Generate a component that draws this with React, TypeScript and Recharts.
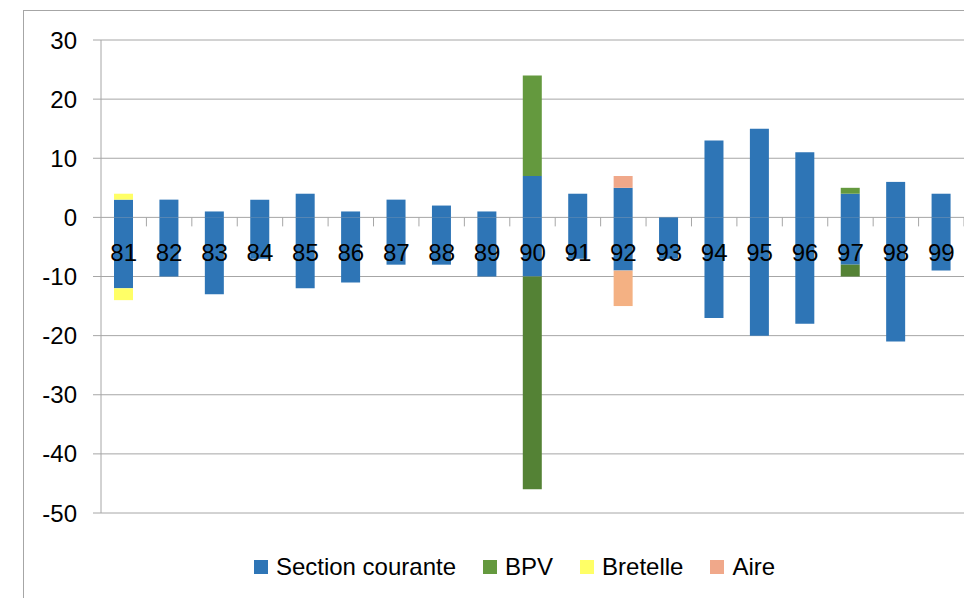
import React from 'react';
import { BarChart, Bar, XAxis, YAxis, CartesianGrid, Legend } from 'recharts';

const categories = ['81', '82', '83', '84', '85', '86', '87', '88', '89', '90', '91', '92', '93', '94', '95', '96', '97', '98', '99'];
const seriesNames = ['Section courante', 'BPV', 'Bretelle', 'Aire'];

const sectionPos = [3, 3, 1, 3, 4, 1, 3, 2, 1, 7, 4, 5, 0, 13, 15, 11, 4, 6, 4];
const sectionNeg = [-12, -10, -13, -7, -12, -11, -8, -8, -10, -10, -7, -9, -7, -17, -20, -18, -8, -21, -9];
const bpvPos = [0, 0, 0, 0, 0, 0, 0, 0, 0, 17, 0, 0, 0, 0, 0, 0, 1, 0, 0];
const bpvNeg = [0, 0, 0, 0, 0, 0, 0, 0, 0, -36, 0, 0, 0, 0, 0, 0, -2, 0, 0];
const bretellePos = [1, 0, 0, 0, 0, 0, 0, 0, 0, 0, 0, 0, 0, 0, 0, 0, 0, 0, 0];
const bretelleNeg = [-2, 0, 0, 0, 0, 0, 0, 0, 0, 0, 0, 0, 0, 0, 0, 0, 0, 0, 0];
const airePos = [0, 0, 0, 0, 0, 0, 0, 0, 0, 0, 0, 2, 0, 0, 0, 0, 0, 0, 0];
const aireNeg = [0, 0, 0, 0, 0, 0, 0, 0, 0, 0, 0, -6, 0, 0, 0, 0, 0, 0, 0];

const yTicks = [-50, -40, -30, -20, -10, 0, 10, 20, 30];

const FONT = '"Liberation Sans", Arial, sans-serif';
const GRID = '#a6a6a6';

// plot area, used to put the category labels on the zero line
const PLOT_TOP = 40;
const PLOT_H = 473;
const Y_MIN = yTicks[0];
const Y_MAX = yTicks[yTicks.length - 1];
const ZERO_Y = PLOT_TOP + (Y_MAX / (Y_MAX - Y_MIN)) * PLOT_H;

const data = categories.map((cat, i) => ({
  cat,
  scPos: sectionPos[i],
  scNeg: sectionNeg[i],
  bpvPos: bpvPos[i],
  bpvNeg: bpvNeg[i],
  brPos: bretellePos[i],
  brNeg: bretelleNeg[i],
  airePos: airePos[i],
  aireNeg: aireNeg[i],
}));

const CategoryTick = (props: any) => {
  const { x, payload, width } = props;
  const band = (width || 863) / categories.length;
  return (
    <g>
      <line x1={x + band / 2} x2={x + band / 2} y1={ZERO_Y} y2={ZERO_Y + 9} stroke={GRID} />
      <text x={x} y={ZERO_Y + 44} textAnchor="middle" fontSize={24} fontFamily={FONT} fill="#000">
        {payload.value}
      </text>
    </g>
  );
};

const LegendContent = (props: any) => {
  const items = (props.payload || [])
    .filter((p: any) => p.type !== 'none' && seriesNames.includes(p.value))
    .sort((a: any, b: any) => seriesNames.indexOf(a.value) - seriesNames.indexOf(b.value));
  return (
    <div style={{ display: 'flex', justifyContent: 'center', alignItems: 'center', height: 30, paddingLeft: 92, fontFamily: FONT, fontSize: 24, color: '#000' }}>
      {items.map((p: any) => (
        <div key={p.value} style={{ display: 'flex', alignItems: 'center', marginRight: 27 }}>
          <span style={{ display: 'inline-block', width: 14, height: 14, background: p.color, marginRight: 8 }} />
          <span>{p.value}</span>
        </div>
      ))}
    </div>
  );
};

const App: React.FC = () => {
  return (
    <div style={{ position: 'absolute', left: 0, top: 0, width: 964, height: 598, overflow: 'hidden', background: '#fff' }}>
      <div style={{ position: 'absolute', left: 23, top: 10, width: 980, height: 620, border: '1px solid #a6a6a6' }} />
      <div style={{ position: 'absolute', left: 0, top: 0 }}>
        <BarChart width={964} height={598} data={data} stackOffset="sign" margin={{ top: 40, right: 0, left: 0, bottom: 25 }}>
          <CartesianGrid vertical={false} stroke={GRID} />
          <YAxis
            width={101}
            domain={[Y_MIN, Y_MAX]}
            ticks={yTicks}
            interval={0}
            tickSize={8}
            tickMargin={16}
            axisLine={{ stroke: GRID }}
            tickLine={{ stroke: GRID }}
            tick={{ fill: '#000', fontSize: 24, fontFamily: FONT }}
          />
          <Bar dataKey="scPos" name="Section courante" stackId="a" fill="#2e75b6" barSize={19} isAnimationActive={false} />
          <Bar dataKey="scNeg" stackId="a" fill="#2e75b6" barSize={19} legendType="none" isAnimationActive={false} />
          <Bar dataKey="bpvPos" name="BPV" stackId="a" fill="#64993e" barSize={19} isAnimationActive={false} />
          <Bar dataKey="bpvNeg" stackId="a" fill="#548235" barSize={19} legendType="none" isAnimationActive={false} />
          <Bar dataKey="brPos" name="Bretelle" stackId="a" fill="#ffff66" barSize={19} isAnimationActive={false} />
          <Bar dataKey="brNeg" stackId="a" fill="#ffff66" barSize={19} legendType="none" isAnimationActive={false} />
          <Bar dataKey="airePos" name="Aire" stackId="a" fill="#f0a88a" barSize={19} isAnimationActive={false} />
          <Bar dataKey="aireNeg" stackId="a" fill="#f4b183" barSize={19} legendType="none" isAnimationActive={false} />
          <XAxis dataKey="cat" height={30} interval={0} axisLine={false} tickLine={false} tick={<CategoryTick />} />
          <Legend verticalAlign="bottom" content={<LegendContent />} wrapperStyle={{ bottom: 16 }} />
        </BarChart>
      </div>
    </div>
  );
};

export default App;
